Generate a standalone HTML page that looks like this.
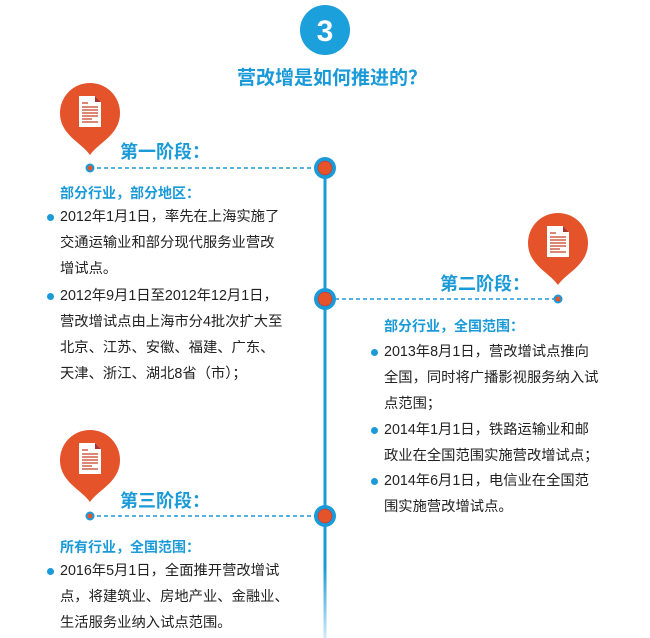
<!DOCTYPE html>
<html><head><meta charset="utf-8"><style>
body{margin:0;width:650px;height:638px;background:#fff;position:relative;overflow:hidden;font-family:"Liberation Sans","Noto Sans CJK SC",sans-serif}
.t{position:absolute;white-space:nowrap;font-size:14.3px;color:#222;line-height:26px}
.h{position:absolute;white-space:nowrap;font-size:18px;font-weight:bold;color:#1b9ad8}
.s{position:absolute;white-space:nowrap;font-size:14px;font-weight:bold;color:#1b9ad8}
.b{position:absolute;width:7px;height:7px;border-radius:50%;background:#1b9ad8}
</style></head><body>
<svg width="650" height="638" style="position:absolute;left:0;top:0">
<defs><linearGradient id="vg" x1="0" y1="0" x2="0" y2="1"><stop offset="0.85" stop-color="#1b9ad8"/><stop offset="1" stop-color="#1b9ad8" stop-opacity="0.2"/></linearGradient>
<g id="pin"><path d="M0,42 C-8,30 -30,22 -30,0 A30,30 0 1 1 30,0 C30,22 8,30 0,42 Z" fill="#e5532a"/>
<path d="M-11,-17 h16 l6,6 v25 h-22 z" fill="#fff"/>
<path d="M5,-17 v6 h6 z" fill="#a33"/>
<g stroke="#c8452a" stroke-width="1.3"><line x1="-8" y1="-10" x2="-2" y2="-10"/><line x1="-8" y1="-6" x2="8" y2="-6"/><line x1="-8" y1="-3" x2="8" y2="-3"/><line x1="-8" y1="0" x2="8" y2="0"/><line x1="-8" y1="3" x2="8" y2="3"/><line x1="-8" y1="6" x2="2" y2="6"/><line x1="-8" y1="9" x2="8" y2="9"/></g></g>
<g id="ring"><circle r="11" fill="#1b9ad8"/><circle r="7" fill="#e5532a" stroke="#c23" stroke-width="0.5"/></g>
<g id="dot"><circle r="4.5" fill="#1b9ad8"/><circle r="2.5" fill="#e5532a"/></g></defs>
<circle cx="325" cy="30" r="25" fill="#1ba0dc"/>
<text x="325" y="41" text-anchor="middle" font-family="Liberation Sans" font-weight="bold" font-size="30" fill="#fff">3</text>
<rect x="323.5" y="168" width="3" height="470" fill="url(#vg)"/>
<g stroke="#1b9ad8" stroke-width="1.5" stroke-dasharray="4,3"><line x1="90" y1="168" x2="315" y2="168"/><line x1="335" y1="299" x2="558" y2="299"/><line x1="90" y1="516" x2="315" y2="516"/></g>
<use href="#pin" x="90" y="113"/><use href="#pin" x="558" y="243"/><use href="#pin" x="90" y="460"/>
<use href="#ring" x="325" y="168"/><use href="#ring" x="325" y="299"/><use href="#ring" x="325" y="516"/>
<use href="#dot" x="90" y="168"/><use href="#dot" x="558" y="299"/><use href="#dot" x="90" y="516"/>
</svg>
<div class="h" style="left:237px;top:63px;font-size:19px">营改增是如何推进的？</div>
<div class="h" style="left:120px;top:138px">第一阶段：</div>
<div class="s" style="left:60px;top:183px">部分行业，部分地区：</div>
<div class="b" style="left:47px;top:214px"></div>
<div class="t" style="left:60px;top:204px">2012年1月1日，率先在上海实施了<br>交通运输业和部分现代服务业营改<br>增试点。</div>
<div class="b" style="left:47px;top:293px"></div>
<div class="t" style="left:60px;top:283px">2012年9月1日至2012年12月1日，<br>营改增试点由上海市分4批次扩大至<br>北京、江苏、安徽、福建、广东、<br>天津、浙江、湖北8省（市）；</div>
<div class="h" style="left:440px;top:270px">第二阶段：</div>
<div class="s" style="left:384px;top:316px">部分行业，全国范围：</div>
<div class="b" style="left:371px;top:349px"></div>
<div class="t" style="left:384px;top:339px">2013年8月1日，营改增试点推向<br>全国，同时将广播影视服务纳入试<br>点范围；</div>
<div class="b" style="left:371px;top:427px"></div>
<div class="t" style="left:384px;top:417px">2014年1月1日，铁路运输业和邮<br>政业在全国范围实施营改增试点；</div>
<div class="b" style="left:371px;top:478px"></div>
<div class="t" style="left:384px;top:468px">2014年6月1日，电信业在全国范<br>围实施营改增试点。</div>
<div class="h" style="left:120px;top:487px">第三阶段：</div>
<div class="s" style="left:60px;top:537px">所有行业，全国范围：</div>
<div class="b" style="left:47px;top:568px"></div>
<div class="t" style="left:60px;top:558px">2016年5月1日，全面推开营改增试<br>点，将建筑业、房地产业、金融业、<br>生活服务业纳入试点范围。</div>
</body></html>
